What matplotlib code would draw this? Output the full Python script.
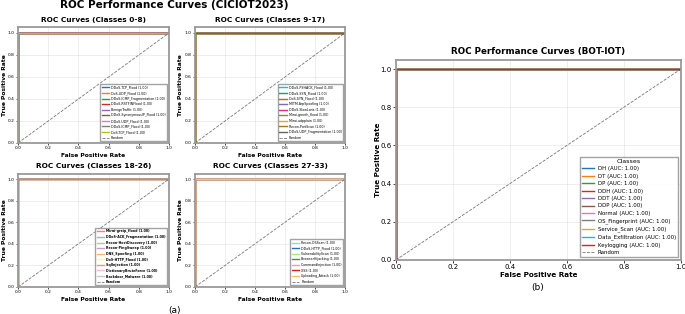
import matplotlib
matplotlib.use("Agg")
import matplotlib.pyplot as plt
import numpy as np

# class names per panel (CICIOT2023)
classes_0_8 = ["DDoS-TCP_Flood", "DoS-UDP_Flood", "DDoS-ICMP_Fragmentation", "DDoS-RSTFINFlood",
               "BenignTraffic", "DDoS-SynonymousIP_Flood", "DDoS-UDP_Flood", "DDoS-ICMP_Flood",
               "DoS-TCP_Flood"]
classes_9_17 = ["DDoS-PSHACK_Flood", "DDoS-SYN_Flood", "DoS-SYN_Flood", "MITM-ArpSpoofing",
                "DDoS-SlowLoris", "Mirai-greeth_flood", "Mirai-udpplain", "Recon-PortScan",
                "DDoS-UDP_Fragmentation"]
classes_18_26 = ["Mirai-greip_flood", "DDoS-ACK_Fragmentation", "Recon-HostDiscovery",
                 "Recon-PingSweep", "DNS_Spoofing", "DoS-HTTP_Flood", "SqlInjection",
                 "DictionaryBruteForce", "Backdoor_Malware"]
classes_27_33 = ["Recon-OSScan", "DDoS-HTTP_Flood", "VulnerabilityScan", "BrowserHijacking",
                 "CommandInjection", "XSS", "Uploading_Attack"]
auc_cic = [1.00] * 34

# BOT-IOT classes
bot_classes = ["DH", "DT", "DP", "DDH", "DDT", "DDP", "Normal", "OS_Fingerprint",
               "Service_Scan", "Data_Exfiltration", "Keylogging"]
auc_bot = [1.00] * 11

# roc points (near perfect classifiers)
fpr_perfect = [0.0, 0.0, 1.0]
tpr_perfect = [0.0, 1.0, 1.0]
fpr_near = [0.0, 0.0, 0.004, 0.012, 1.0]
tpr_near = [0.0, 0.975, 0.99, 1.0, 1.0]
near_classes = ["BenignTraffic", "MITM-ArpSpoofing", "Recon-HostDiscovery", "Recon-PingSweep"]

tab10 = plt.get_cmap("tab10").colors
dark2 = plt.get_cmap("Dark2").colors
set1 = plt.get_cmap("Set1").colors
paired = plt.get_cmap("Paired").colors
panel_colors = [list(tab10[:9]), [tab10[9]] + list(dark2), list(set1[:9]), list(paired[:7])]
panel_alpha = [1.0, 1.0, 0.55, 1.0]

fig = plt.figure(figsize=(6.85, 3.14), dpi=100)

def style_axes(ax, tick_fs, lab_fs, title, title_fs, ylab_x, tlen=2):
    ax.set_xlim(0, 1)
    ax.set_ylim(0, 1.05)
    ax.grid(True, color="#dddddd", linewidth=0.5, alpha=0.7)
    for s in ax.spines.values():
        s.set_color("#9a9a9a")
        s.set_linewidth(1.3)
    ax.tick_params(labelsize=tick_fs, length=tlen, width=0.5, pad=1)
    ax.set_xlabel("False Positive Rate", fontsize=lab_fs, fontweight="bold", labelpad=1.5)
    ax.set_ylabel("True Positive Rate", fontsize=lab_fs, fontweight="bold")
    ax.yaxis.set_label_coords(ylab_x, 0.5)
    ax.set_title(title, fontsize=title_fs, fontweight="bold", pad=4)

panels = [
    (classes_0_8, "ROC Curves (Classes 0-8)", [0.0263, 0.5446, 0.2205, 0.368], 0, -0.074),
    (classes_9_17, "ROC Curves (Classes 9-17)", [0.2847, 0.5446, 0.219, 0.368], 9, -0.078),
    (classes_18_26, "ROC Curves (Classes 18-26)", [0.0263, 0.086, 0.2205, 0.361], 18, -0.074),
    (classes_27_33, "ROC Curves (Classes 27-33)", [0.2847, 0.086, 0.219, 0.361], 27, -0.078),
]

for p, (names, title, rect, start, ylx) in enumerate(panels):
    ax = fig.add_axes(rect)
    for i, name in enumerate(names):
        if name in near_classes:
            fx, ty = fpr_near, tpr_near
        else:
            fx, ty = fpr_perfect, tpr_perfect
        ax.plot(fx, ty, color=panel_colors[p][i], lw=1.0, alpha=panel_alpha[p],
                label=f"{name} ({auc_cic[start + i]:.2f})")
    ax.plot([0, 1], [0, 1], "--", color="#555555", lw=0.6, alpha=0.8, label="Random")
    style_axes(ax, 3.2, 4.3, title, 5.3, ylx, tlen=1.5)
    bold = "bold" if p == 2 else "normal"
    ax.legend(loc="lower right", prop={"size": 2.3, "weight": bold},
              handlelength=2.3, handletextpad=0.7, labelspacing=0.5, borderpad=0.5,
              framealpha=0.9, edgecolor="#999999", fancybox=False)

fig.text(0.255, 0.985, "ROC Performance Curves (CICIOT2023)", ha="center", va="center",
         fontsize=7.5, fontweight="bold")
fig.text(0.255, 0.012, "(a)", ha="center", va="center", fontsize=6.5)

# BOT-IOT panel
axb = fig.add_axes([0.578, 0.172, 0.416, 0.6385])
bot_colors = list(tab10) + [set1[0]]
for i, name in enumerate(bot_classes):
    axb.plot(fpr_perfect, tpr_perfect, color=bot_colors[i], lw=1.0,
             label=f"{name} (AUC: {auc_bot[i]:.2f})")
axb.plot([0, 1], [0, 1], "--", color="#555555", lw=0.6, alpha=0.8, label="Random")
style_axes(axb, 5.0, 5.2, "ROC Performance Curves (BOT-IOT)", 6.3, -0.053)
axb.legend(loc="lower right", title="Classes", fontsize=3.9, title_fontsize=4.6,
           handlelength=2.2, handletextpad=0.7, labelspacing=0.45, borderpad=0.4,
           framealpha=0.9, edgecolor="#999999", fancybox=False)
fig.text(0.785, 0.083, "(b)", ha="center", va="center", fontsize=6.5)

fig.savefig("out.png", dpi=100)
